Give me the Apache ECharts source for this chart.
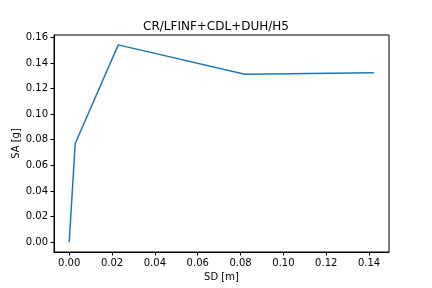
<!DOCTYPE html>
<html>
<head>
<meta charset="utf-8">
<script src="https://cdn.jsdelivr.net/npm/echarts@6/dist/echarts.min.js"></script>
<style>
html, body { margin: 0; padding: 0; background: #fff; }
#chart { width: 432px; height: 288px; }
</style>
</head>
<body>
<div id="chart"></div>
<script>
// data
let sd = [0.0, 0.0028, 0.0229, 0.0820, 0.1422];
let sa = [0.0, 0.0770, 0.1541, 0.1312, 0.1323];
let xTicks = [0.00, 0.02, 0.04, 0.06, 0.08, 0.10, 0.12, 0.14];
let yTicks = [0.00, 0.02, 0.04, 0.06, 0.08, 0.10, 0.12, 0.14, 0.16];

let myChart = echarts.init(document.getElementById('chart'));

let font = 'DejaVu Sans';

myChart.setOption({
    animation: false,
    title: {
        text: 'CR/LFINF+CDL+DUH/H5',
        left: 'center',
        top: 16,
        textStyle: { fontFamily: font, fontSize: 12, fontWeight: 'normal', color: '#000' }
    },
    grid: {
        left: 54, right: 43, top: 35, bottom: 36,
        outerBoundsMode: 'none',
        show: true,
        borderColor: '#000',
        borderWidth: 1
    },
    xAxis: {
        type: 'value',
        min: -0.0071,
        max: 0.1493,
        name: 'SD [m]',
        nameLocation: 'middle',
        nameGap: 20,
        nameMoveOverlap: false,
        nameTextStyle: { fontFamily: font, fontSize: 10, color: '#000' },
        splitLine: { show: false },
        axisLine: { show: true, onZero: false, lineStyle: { color: '#000', width: 1 } },
        axisTick: { show: true, length: 3.5, customValues: xTicks, lineStyle: { color: '#000' } },
        axisLabel: {
            customValues: xTicks,
            margin: 6,
            fontFamily: font, fontSize: 10, color: '#000',
            formatter: function (v) { return v.toFixed(2); }
        }
    },
    yAxis: {
        type: 'value',
        min: -0.0077,
        max: 0.1618,
        name: 'SA [g]',
        nameLocation: 'middle',
        nameGap: 33,
        nameMoveOverlap: false,
        nameTextStyle: { fontFamily: font, fontSize: 10, color: '#000' },
        splitLine: { show: false },
        axisLine: { show: true, onZero: false, lineStyle: { color: '#000', width: 1 } },
        axisTick: { show: true, length: 3.5, customValues: yTicks, lineStyle: { color: '#000' } },
        axisLabel: {
            customValues: yTicks,
            margin: 6,
            fontFamily: font, fontSize: 10, color: '#000',
            formatter: function (v) { return v.toFixed(2); }
        }
    },
    series: [
        {
            type: 'line',
            data: sd.map(function (x, i) { return [x, sa[i]]; }),
            showSymbol: false,
            lineStyle: { color: '#1f77b4', width: 1.5 },
            itemStyle: { color: '#1f77b4' }
        }
    ]
});
</script>
</body>
</html>
